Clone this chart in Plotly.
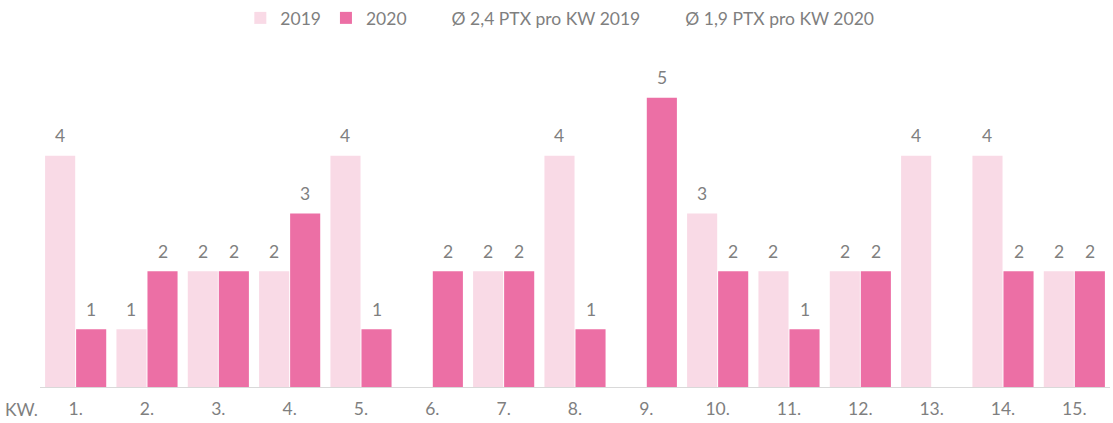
import plotly.graph_objects as go

categories = ["1.", "2.", "3.", "4.", "5.", "6.", "7.", "8.", "9.", "10.", "11.", "12.", "13.", "14.", "15."]
values_2019 = [4, 1, 2, 2, 4, 0, 2, 4, 0, 3, 2, 2, 4, 4, 2]
values_2020 = [1, 2, 2, 3, 1, 2, 2, 1, 5, 2, 1, 2, 0, 2, 2]
avg_2019 = 2.4
avg_2020 = 1.9
axis_prefix = "KW."

c2019 = "#F9DAE6"
c2020 = "#EC6FA5"
gray = "#7F7F7F"
font_family = "Lato, 'Open Sans', sans-serif"
fsize = 17.5

W, H = 1113, 423
ml, mr, mt, mb = 40, 3, 40, 36
bargap, bargroupgap = 0.13, 0.03

fig = go.Figure()
fig.add_trace(go.Bar(
    x=categories, y=values_2019, name="2019",
    marker=dict(color=c2019, line=dict(width=0)),
))
fig.add_trace(go.Bar(
    x=categories, y=values_2020, name="2020",
    marker=dict(color=c2020, line=dict(width=0)),
))
fig.add_trace(go.Scatter(
    x=categories, y=[avg_2019] * len(categories), mode="lines",
    name="Ø " + f"{avg_2019:.1f}".replace(".", ",") + " PTX pro KW 2019",
    line=dict(color="rgba(0,0,0,0)", width=0), hoverinfo="skip",
))
fig.add_trace(go.Scatter(
    x=categories, y=[avg_2020] * len(categories), mode="lines",
    name="Ø " + f"{avg_2020:.1f}".replace(".", ",") + " PTX pro KW 2020",
    line=dict(color="rgba(0,0,0,0)", width=0), hoverinfo="skip",
))

# value labels placed above each bar (offset within the group)
cat_px = (W - ml - mr) / len(categories)
slot_px = cat_px * (1 - bargap) / 2
annotations = []
for vals, sign in ((values_2019, -1), (values_2020, 1)):
    for i, v in enumerate(vals):
        if v:
            annotations.append(dict(
                x=i, y=v, xref="x", yref="y", text=str(v), showarrow=False,
                xanchor="center", yanchor="middle", xshift=sign * slot_px / 2, yshift=20,
                font=dict(size=fsize, color=gray, family=font_family)))
annotations.append(dict(text=axis_prefix, xref="paper", yref="paper", x=-0.017, y=-0.066,
                        xanchor="center", yanchor="middle", showarrow=False,
                        font=dict(size=fsize, color=gray, family=font_family)))

fig.update_layout(
    width=W, height=H,
    margin=dict(l=ml, r=mr, t=mt, b=mb),
    paper_bgcolor="white", plot_bgcolor="white",
    barmode="group", bargap=bargap, bargroupgap=bargroupgap,
    font=dict(family=font_family, size=fsize, color=gray),
    showlegend=True,
    legend=dict(orientation="h", x=0.503, xanchor="center", xref="container",
                y=1, yref="container", yanchor="top",
                font=dict(size=fsize, color=gray), itemwidth=30, traceorder="normal"),
    xaxis=dict(type="category", showline=True, linecolor="#D9D9D9", linewidth=1, ticks="",
               tickfont=dict(size=fsize, color=gray), showgrid=False, ticklabelstandoff=6),
    yaxis=dict(range=[0, 6], visible=False, showgrid=False),
    annotations=annotations,
)

fig.write_html("out.html", post_script="document.body.style.margin='0';",
               config={"displayModeBar": False})
